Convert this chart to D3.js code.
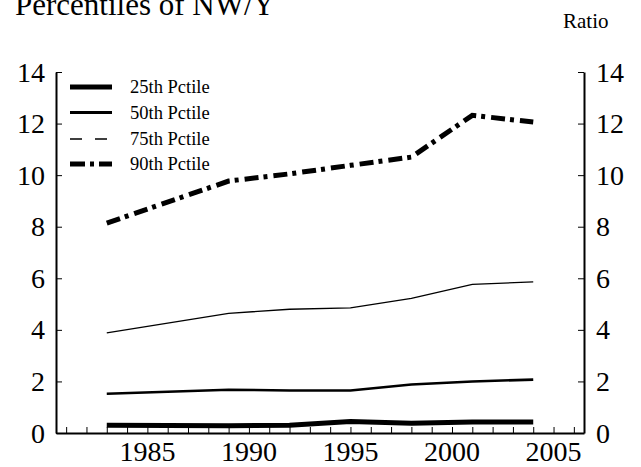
<!DOCTYPE html>
<html>
<head>
<meta charset="utf-8">
<script src="https://cdn.jsdelivr.net/npm/d3@7"></script>
<style>
  body { margin: 0; background: #fff; }
  svg { display: block; }
  text { font-family: "Liberation Serif", "Times New Roman", serif; fill: #000; }
</style>
</head>
<body>
<svg id="chart" width="641" height="467"></svg>
<script>
// survey years
const years = [1983, 1989, 1992, 1995, 1998, 2001, 2004];

// ratio of net worth to income, by percentile
const p25 = [0.3, 0.28, 0.3, 0.45, 0.38, 0.43, 0.43];
const p50 = [1.52, 1.68, 1.65, 1.65, 1.88, 2.0, 2.07];
const p75 = [3.88, 4.64, 4.8, 4.85, 5.22, 5.76, 5.86];
const p90 = [8.14, 9.77, 10.05, 10.38, 10.7, 12.32, 12.06];

const seriesNames = ["25th Pctile", "50th Pctile", "75th Pctile", "90th Pctile"];
const yTicks = [0, 2, 4, 6, 8, 10, 12, 14];
const xLabels = [1985, 1990, 1995, 2000, 2005];

const width = 641, height = 467;
const margin = {top: 72, right: 57, bottom: 34, left: 56};

const svg = d3.select("#chart");

const x = d3.scaleLinear()
    .domain([1980.5, 2006.5])
    .range([margin.left, width - margin.right]);

const y = d3.scaleLinear()
    .domain([0, 14])
    .range([height - margin.bottom, margin.top]);

// line styles as seen on the plot
const styles = [
    {w: 5, dash: null, legendDash: null},
    {w: 2.6, dash: null, legendDash: null},
    {w: 1.3, dash: null, legendDash: "12,13"},
    {w: 5, dash: "14,5,4,6", legendDash: "15,5,4,5"}
];
const allSeries = [p25, p50, p75, p90];

const line = d3.line()
    .x(d => x(d[0]))
    .y(d => y(d[1]));

allSeries.forEach((vals, i) => {
    svg.append("path")
        .datum(years.map((yr, j) => [yr, vals[j]]))
        .attr("d", line)
        .attr("fill", "none")
        .attr("stroke", "#000")
        .attr("stroke-width", styles[i].w)
        .attr("stroke-dasharray", styles[i].dash);
});

// axes - ticks point inward
const xAxis = d3.axisBottom(x)
    .tickValues(d3.range(1981, 2007))
    .tickSizeInner(-6)
    .tickSizeOuter(0)
    .tickFormat("");

svg.append("g")
    .attr("transform", `translate(0,${height - margin.bottom})`)
    .call(xAxis)
    .call(g => g.select(".domain").attr("stroke-width", 2))
    .call(g => g.selectAll(".tick line").attr("stroke-width", 1));

svg.append("g")
    .attr("transform", `translate(${margin.left},0)`)
    .call(d3.axisLeft(y).tickValues(yTicks).tickSizeInner(-6).tickSizeOuter(0).tickFormat(""))
    .call(g => g.select(".domain").attr("stroke-width", 2));

svg.append("g")
    .attr("transform", `translate(${width - margin.right},0)`)
    .call(d3.axisRight(y).tickValues(yTicks).tickSizeInner(-6).tickSizeOuter(0).tickFormat(""))
    .call(g => g.select(".domain").attr("stroke-width", 2));

// tick labels
svg.selectAll(".ylabL")
    .data(yTicks)
    .enter().append("text")
    .attr("x", 45)
    .attr("y", d => y(d))
    .attr("dy", "0.34em")
    .attr("text-anchor", "end")
    .attr("font-size", "28px")
    .text(d => d);

svg.selectAll(".ylabR")
    .data(yTicks)
    .enter().append("text")
    .attr("x", 596)
    .attr("y", d => y(d))
    .attr("dy", "0.34em")
    .attr("text-anchor", "start")
    .attr("font-size", "28px")
    .text(d => d);

svg.selectAll(".xlab")
    .data(xLabels)
    .enter().append("text")
    .attr("x", d => x(d))
    .attr("y", 461)
    .attr("text-anchor", "middle")
    .attr("font-size", "28px")
    .text(d => d);

// titles
svg.append("text")
    .attr("x", 15)
    .attr("y", 15)
    .attr("font-size", "31px")
    .text("Percentiles of NW/Y");

svg.append("text")
    .attr("x", 563)
    .attr("y", 28)
    .attr("font-size", "21px")
    .text("Ratio");

// legend
const legend = svg.append("g");
const legendY = [87, 112.5, 139, 164];
seriesNames.forEach((name, i) => {
    legend.append("line")
        .attr("x1", 70).attr("x2", 112)
        .attr("y1", legendY[i]).attr("y2", legendY[i])
        .attr("stroke", "#000")
        .attr("stroke-width", i === 1 ? 2.8 : styles[i].w)
        .attr("stroke-dasharray", styles[i].legendDash);
    legend.append("text")
        .attr("x", 130)
        .attr("y", legendY[i])
        .attr("dy", "0.33em")
        .attr("font-size", "18.5px")
        .text(name);
});
</script>
</body>
</html>
